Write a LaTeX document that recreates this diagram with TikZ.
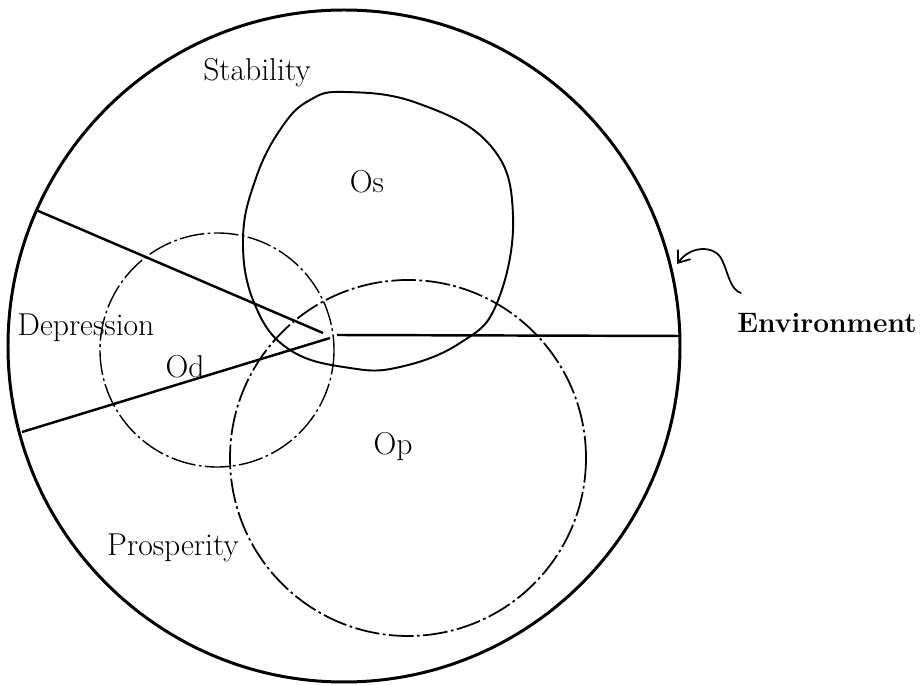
\documentclass[tikz,border=0pt]{standalone}
\usepackage{tikz}
\usetikzlibrary{arrows.meta,positioning,calc}

\begin{document}
\begin{tikzpicture}[
  x=0.02cm, y=-0.02cm,
  every node/.style={font=\fontsize{18}{20}\selectfont},
  envline/.style={line width=1.7pt},
  rayline/.style={line width=1.4pt},
  solidzone/.style={line width=1.1pt},
  dashzone/.style={line width=0.8pt, dash pattern=on 14pt off 2pt on 1.5pt off 2pt}
]
  \useasboundingbox (0,0) rectangle (921,685);

  % Environment and the three sectors
  \draw[envline] (344,346) circle [radius=336];
  \coordinate (hubA) at (323,333);
  \coordinate (hubB) at (330,338);
  \coordinate (hubC) at (337,335);
  \coordinate (rimA) at (36,210);
  \coordinate (rimB) at (22,432);
  \coordinate (rimC) at (680,336);
  \draw[rayline] (rimA) -- (hubA);
  \draw[rayline] (rimB) -- (hubB);
  \draw[rayline] (hubC) -- (rimC);

  % Outcome regions
  \draw[solidzone] plot[smooth cycle, tension=0.7] coordinates {
    (345,92) (417,103) (490,145) (513,215) (497,303) (460,343)
    (400,367) (350,368) (290,350) (255,305) (243,240) (256,178) (282,127) (310,100)};
  \draw[dashzone] (217,350) circle [radius=117];
  \draw[dashzone, line width=1pt] (408,458) circle [radius=178];

  % Labels
  \node (stab) at (257,73) {Stability};
  \node (depr) at (86,328) {Depression};
  \node (pros) at (173,548) {Prosperity};
  \node (os) at (367,182) {Os};
  \node (od) at (185,367) {Od};
  \node (op) at (393,447) {Op};
  \node[font=\fontsize{16}{20}\selectfont\bfseries] (env) at (827,323) {Environment};

  \coordinate (envtip) at (677,264);
  \draw[line width=1pt, -{Straight Barb[length=6pt,width=9pt]}]
    ($(env.north west)+(10,-14)$) .. controls (730,290) and (728,272) .. (722,260)
    .. controls (716,246) and (692,244) .. (envtip);
\end{tikzpicture}
\end{document}
